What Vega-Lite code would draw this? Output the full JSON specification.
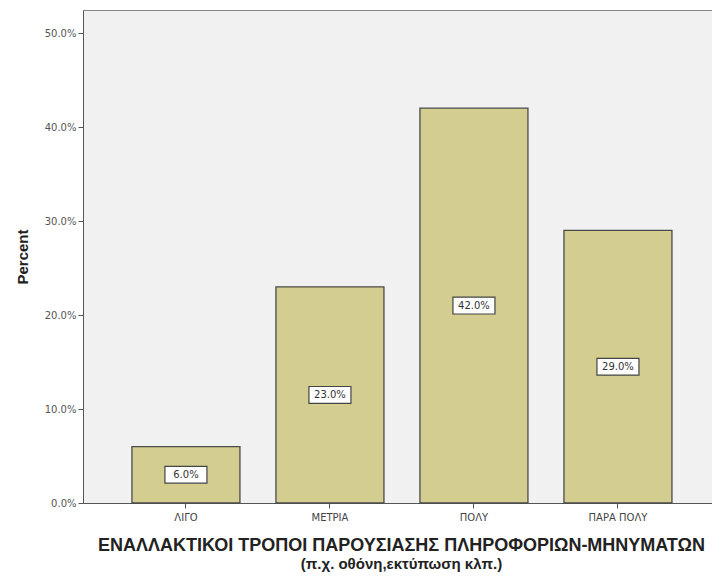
{
  "$schema": "https://vega.github.io/schema/vega-lite/v6.json",
  "autosize": "none",
  "width": 629,
  "height": 493,
  "padding": {"left": 83, "top": 10, "right": 0, "bottom": 76},
  "background": "white",
  "config": {
    "view": {"fill": "#f1f1f1", "stroke": "#888888", "strokeWidth": 1},
    "font": "Liberation Sans"
  },
  "title": {
    "text": "ΕΝΑΛΛΑΚΤΙΚΟΙ ΤΡΟΠΟΙ ΠΑΡΟΥΣΙΑΣΗΣ ΠΛΗΡΟΦΟΡΙΩΝ-ΜΗΝΥΜΑΤΩΝ",
    "subtitle": "(π.χ. οθόνη,εκτύπωση κλπ.)",
    "orient": "bottom",
    "anchor": "middle",
    "font": "Liberation Sans",
    "fontSize": 18,
    "fontWeight": "bold",
    "color": "#222222",
    "subtitleFont": "Liberation Sans",
    "subtitleFontSize": 15,
    "subtitleFontWeight": "bold",
    "subtitleColor": "#222222",
    "subtitlePadding": 2,
    "offset": 15,
    "dx": 4
  },
  "data": {
    "values": [
      {"category": "ΛΙΓΟ", "percent": 0.06},
      {"category": "ΜΕΤΡΙΑ", "percent": 0.23},
      {"category": "ΠΟΛΥ", "percent": 0.42},
      {"category": "ΠΑΡΑ ΠΟΛΥ", "percent": 0.29}
    ]
  },
  "encoding": {
    "x": {
      "field": "category",
      "type": "nominal",
      "sort": null,
      "scale": {"paddingInner": 0.25, "paddingOuter": 0.309, "align": 0.55},
      "axis": {
        "title": null,
        "labelAngle": 0,
        "labelFont": "DejaVu Sans",
        "labelFontSize": 10,
        "labelColor": "#444444",
        "labelPadding": 4,
        "tickSize": 5,
        "tickColor": "#555555",
        "domainColor": "#555555",
        "grid": false
      }
    }
  },
  "layer": [
    {
      "mark": {"type": "bar", "fill": "#d3ce90", "stroke": "#4a4a4a", "strokeWidth": 1.3},
      "encoding": {
        "y": {
          "field": "percent",
          "type": "quantitative",
          "scale": {"domain": [0, 0.5245], "nice": false},
          "axis": {
            "title": "Percent",
            "titleFont": "Liberation Sans",
            "titleFontSize": 15,
            "titleFontWeight": "bold",
            "titleColor": "#222222",
            "titlePadding": 14,
            "values": [0, 0.1, 0.2, 0.3, 0.4, 0.5],
            "format": ".1%",
            "labelFont": "DejaVu Sans",
            "labelFontSize": 10,
            "labelColor": "#555555",
            "labelPadding": 2,
            "tickSize": 5,
            "tickColor": "#555555",
            "domainColor": "#555555",
            "grid": false
          }
        }
      }
    },
    {
      "transform": [{"calculate": "datum.percent / 2", "as": "mid"}],
      "mark": {
        "type": "point",
        "shape": "M-1,-0.4L1,-0.4L1,0.4L-1,0.4Z",
        "size": 1764,
        "filled": true,
        "fill": "white",
        "stroke": "#444444",
        "strokeWidth": 1.2,
        "opacity": 1
      },
      "encoding": {
        "y": {"field": "mid", "type": "quantitative"}
      }
    },
    {
      "transform": [{"calculate": "datum.percent / 2", "as": "mid"}],
      "mark": {"type": "text", "font": "DejaVu Sans", "fontSize": 10, "color": "#333333", "baseline": "middle", "align": "center"},
      "encoding": {
        "y": {"field": "mid", "type": "quantitative"},
        "text": {"field": "percent", "type": "quantitative", "format": ".1%"}
      }
    }
  ]
}
